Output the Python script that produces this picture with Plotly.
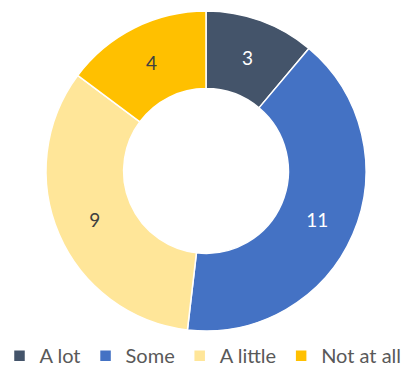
import plotly.graph_objects as go

categories = ["A lot", "Some", "A little", "Not at all"]
counts = [3, 11, 9, 4]
colors = ["#44546A", "#4472C4", "#FFE699", "#FFC000"]
label_colors = ["#FFFFFF", "#FFFFFF", "#404040", "#404040"]

W, H = 406, 366

fig = go.Figure(
    go.Pie(
        labels=categories,
        values=counts,
        sort=False,
        direction="clockwise",
        rotation=0,
        hole=0.515,
        marker=dict(colors=colors, line=dict(color="#FFFFFF", width=1.5)),
        textinfo="value",
        textposition="inside",
        insidetextorientation="horizontal",
        textfont=dict(family="Lato, Open Sans, sans-serif", size=19, color=label_colors),
        domain=dict(x=[46 / W, 366 / W], y=[1 - 331 / H, 1 - 11 / H]),
        hoverinfo="label+value",
    )
)

fig.update_layout(
    width=W,
    height=H,
    margin=dict(l=0, r=0, t=0, b=0, autoexpand=False),
    paper_bgcolor="#FFFFFF",
    plot_bgcolor="#FFFFFF",
    showlegend=True,
    legend=dict(
        orientation="h",
        x=0.5,
        xanchor="center",
        y=-0.025,
        yanchor="bottom",
        font=dict(family="Lato, Open Sans, sans-serif", size=20, color="#595959"),
        itemwidth=30,
        tracegroupgap=0,
    ),
)

fig.write_html("out.html")
